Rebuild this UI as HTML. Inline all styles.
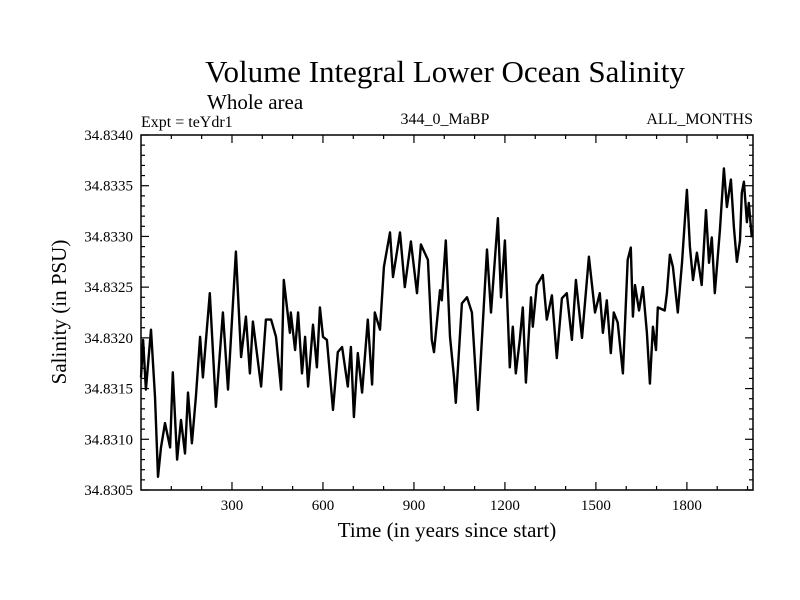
<!DOCTYPE html>
<html><head><meta charset="utf-8"><style>
html,body{margin:0;padding:0;background:#fff;}
svg{display:block;font-family:"Liberation Serif",serif;}
</style></head><body>
<svg id="chart" width="800" height="600" viewBox="0 0 800 600" xmlns="http://www.w3.org/2000/svg">
<text x="445" y="82" font-size="31" text-anchor="middle">Volume Integral Lower Ocean Salinity</text>
<text x="207" y="109" font-size="21">Whole area</text>
<text x="141" y="127" font-size="16">Expt = teYdr1</text>
<text x="445" y="124" font-size="16" text-anchor="middle">344_0_MaBP</text>
<text x="753" y="124" font-size="16" text-anchor="end">ALL_MONTHS</text>
<text x="447" y="537" font-size="21" text-anchor="middle">Time (in years since start)</text>
<text transform="translate(66,312) rotate(-90)" font-size="21" text-anchor="middle">Salinity (in PSU)</text>
<g id="axes"></g>
<rect x="141" y="135" width="612" height="355" fill="none" stroke="#000" stroke-width="1.5"/>
</svg>
<script>
const years = [0,7,16,33,46,56,66,79,96,105,119,132,145,155,168,181,195,204,227,247,270,287,313,330,346,359,369,396,412,429,445,462,471,491,494,508,518,531,541,551,567,580,590,600,613,633,649,663,682,692,702,715,729,748,762,771,788,801,821,831,854,870,890,910,923,946,959,966,986,992,1005,1019,1032,1038,1058,1075,1091,1111,1141,1154,1177,1187,1200,1216,1226,1236,1249,1259,1269,1286,1292,1305,1325,1338,1355,1371,1388,1404,1421,1434,1454,1477,1497,1513,1523,1536,1549,1559,1572,1589,1605,1615,1622,1629,1642,1655,1668,1678,1688,1698,1704,1727,1734,1744,1754,1770,1784,1800,1810,1820,1833,1849,1863,1873,1882,1892,1909,1922,1932,1945,1955,1965,1975,1981,1988,1998,2004,2014];
const salinity = [34.83161,34.83198,34.83149,34.83208,34.83142,34.83063,34.83092,34.83116,34.83092,34.83166,34.8308,34.83119,34.83086,34.83146,34.83096,34.83142,34.83201,34.83161,34.83244,34.83132,34.83225,34.83149,34.83285,34.83181,34.83221,34.83165,34.83216,34.83152,34.83218,34.83218,34.83201,34.83149,34.83257,34.83205,34.83225,34.83188,34.83225,34.83165,34.83201,34.83152,34.83213,34.83171,34.8323,34.83201,34.83198,34.83129,34.83186,34.83191,34.83152,34.83191,34.83122,34.83185,34.83146,34.83218,34.83154,34.83225,34.83208,34.8327,34.83304,34.8326,34.83304,34.8325,34.83295,34.83244,34.83292,34.83277,34.83198,34.83186,34.83247,34.83237,34.83296,34.83201,34.83161,34.83136,34.83234,34.8324,34.83225,34.83129,34.83287,34.83225,34.83318,34.8324,34.83296,34.83171,34.83211,34.83165,34.83198,34.8323,34.83156,34.8324,34.83211,34.83252,34.83262,34.83218,34.83242,34.8318,34.83239,34.83244,34.83198,34.83257,34.832,34.8328,34.83225,34.83244,34.83205,34.83237,34.83185,34.83225,34.83215,34.83165,34.83277,34.83289,34.83221,34.83252,34.83227,34.8325,34.83205,34.83155,34.83211,34.83188,34.8323,34.83227,34.83244,34.83282,34.8327,34.83225,34.83274,34.83346,34.8329,34.83257,34.83284,34.83252,34.83326,34.83274,34.83299,34.83244,34.83306,34.83367,34.83329,34.83356,34.83309,34.83275,34.83296,34.83343,34.83354,34.83314,34.83333,34.83299];
const xTickLabels = [300,600,900,1200,1500,1800];
const yTickLabels = ["34.8305","34.8310","34.8315","34.8320","34.8325","34.8330","34.8335","34.8340"];

const X0=141,X1=753,Y0=135,Y1=490,XMIN=0,XMAX=2018,YMIN=34.8305,YMAX=34.834;
function sx(v){return X0+(v-XMIN)/(XMAX-XMIN)*(X1-X0);}
function sy(v){return Y1-(v-YMIN)/(YMAX-YMIN)*(Y1-Y0);}
const NS="http://www.w3.org/2000/svg";
const g=document.getElementById('axes');
function line(x1,y1,x2,y2,name,w){
  const l=document.createElementNS(NS,'line');
  l.setAttribute('x1',x1);l.setAttribute('y1',y1);l.setAttribute('x2',x2);l.setAttribute('y2',y2);
  l.setAttribute('stroke','#000');l.setAttribute('stroke-width',w||1.2);
  
  
  g.appendChild(l);
}
function text(x,y,s,anchor,name){
  const t=document.createElementNS(NS,'text');
  t.setAttribute('x',x);t.setAttribute('y',y);t.setAttribute('font-size','15');
  t.setAttribute('text-anchor',anchor);t.textContent=s;
  
  
  g.appendChild(t);
}
for(let yr=100;yr<XMAX;yr+=100){
  const x=sx(yr);const major=yr%300===0;const L=major?8:4;
  line(x,Y1,x,Y1-L,'x-tick');
  line(x,Y0,x,Y0+L,'x-tick-top');
}
xTickLabels.forEach(v=>text(sx(v),510,String(v),'middle','x-tick-label'));
for(let i=0;i<=35;i++){
  const v=YMIN+i*0.0001;const y=sy(v);const major=i%5===0;const L=major?8:4;
  line(X0,y,X0+L,y,'y-tick');
  line(X1,y,X1-L,y,'y-tick-right');
}
yTickLabels.forEach(s=>text(133,sy(parseFloat(s))+5,s,'end','y-tick-label'));
let d='';
years.forEach((yr,i)=>{d+=(i?'L':'M')+sx(yr).toFixed(1)+','+sy(salinity[i]).toFixed(1);});
const p=document.createElementNS(NS,'path');
p.setAttribute('d',d);p.setAttribute('fill','none');p.setAttribute('stroke','#000');
p.setAttribute('stroke-width','2.4');p.setAttribute('stroke-linejoin','round');


g.appendChild(p);
</script>
</body></html>
